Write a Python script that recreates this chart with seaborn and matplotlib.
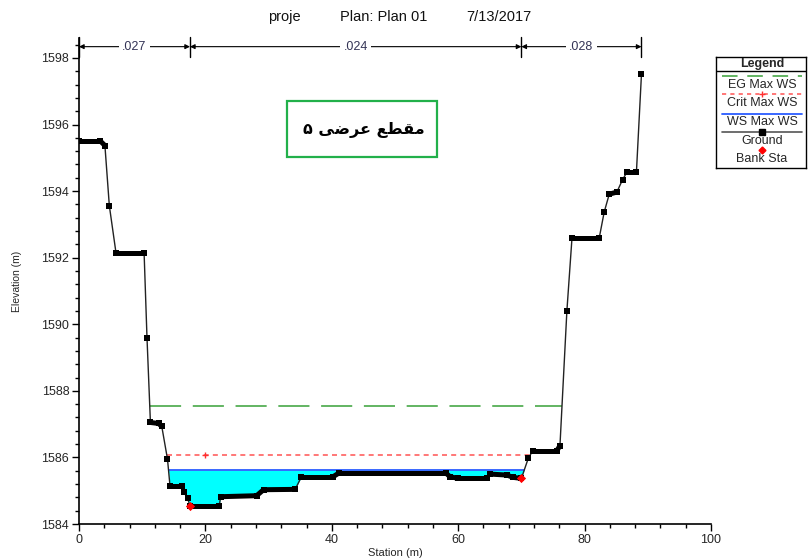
import numpy as np
import pandas as pd
import matplotlib
matplotlib.use("Agg")
import matplotlib.pyplot as plt
import seaborn as sns
from matplotlib.patches import Rectangle
from matplotlib.ticker import MultipleLocator

# ---------------- data ----------------
station = [0.0, 3.4, 4.1, 4.8, 5.85, 10.3, 10.76, 11.3, 12.6, 13.1, 14.0, 14.4,
           16.3, 16.6, 17.2, 17.56, 22.2, 22.4, 28.1, 29.2, 34.2, 35.2, 40.2,
           41.2, 58.0, 58.7, 60.0, 64.6, 65.0, 67.7, 68.7, 70.0, 71.1, 71.8,
           75.6, 76.1, 77.2, 78.0, 82.3, 83.1, 83.9, 85.1, 86.0, 86.7, 88.2, 89.0]
elevation = [1595.5, 1595.5, 1595.37, 1593.56, 1592.15, 1592.15, 1589.59, 1587.05,
             1587.02, 1586.93, 1585.95, 1585.14, 1585.14, 1584.95, 1584.77, 1584.54,
             1584.54, 1584.82, 1584.85, 1585.03, 1585.04, 1585.42, 1585.42, 1585.54,
             1585.54, 1585.42, 1585.37, 1585.37, 1585.5, 1585.47, 1585.4, 1585.37,
             1585.98, 1586.2, 1586.2, 1586.35, 1590.41, 1592.58, 1592.58, 1593.37,
             1593.91, 1593.97, 1594.34, 1594.57, 1594.57, 1597.52]
bank_sta = [17.56, 70.0]
eg_elev = 1587.55
crit_elev = 1586.06
ws_elev = 1585.62
crit_marker_sta = [20.0]
n_bounds = [0.0, 17.56, 70.0, 89.0]
n_values = [".027", ".024", ".028"]
x_ticks = [0, 20, 40, 60, 80, 100]
y_ticks = [1584, 1586, 1588, 1590, 1592, 1594, 1596, 1598]
title_parts = ["proje", "Plan: Plan 01", "7/13/2017"]
section_label = "مقطع عرضی ۵"
legend_labels = ["EG Max WS", "Crit Max WS", "WS Max WS", "Ground", "Bank Sta"]

# ---------------- helpers ----------------
def shape_arabic(text):
    forms = {
        'م': ('\uFEE1', '\uFEE2', '\uFEE3', '\uFEE4'),
        'ق': ('\uFED5', '\uFED6', '\uFED7', '\uFED8'),
        'ط': ('\uFEC1', '\uFEC2', '\uFEC3', '\uFEC4'),
        'ع': ('\uFEC9', '\uFECA', '\uFECB', '\uFECC'),
        'ر': ('\uFEAD', '\uFEAE', '\uFEAD', '\uFEAE'),
        'ض': ('\uFEBD', '\uFEBE', '\uFEBF', '\uFEC0'),
        'ی': ('\uFBFC', '\uFBFD', '\uFBFE', '\uFBFF'),
    }
    no_forward = {'ر'}
    out = []
    for i, c in enumerate(text):
        if c not in forms:
            out.append(c)
            continue
        prev = text[i - 1] if i > 0 else ''
        nxt = text[i + 1] if i + 1 < len(text) else ''
        jp = prev in forms and prev not in no_forward
        jn = nxt in forms and c not in no_forward
        iso, fin, ini, med = forms[c]
        out.append(med if (jp and jn) else fin if jp else ini if jn else iso)
    return ''.join(reversed(out))


def crossings(level):
    s = np.asarray(station)
    z = np.asarray(elevation)
    left = right = None
    for i in range(len(s) - 1):
        if z[i] >= level > z[i + 1]:
            left = s[i] + (s[i + 1] - s[i]) * (z[i] - level) / (z[i] - z[i + 1])
            break
    for i in range(len(s) - 1, 0, -1):
        if z[i] >= level > z[i - 1]:
            right = s[i - 1] + (s[i] - s[i - 1]) * (level - z[i - 1]) / (z[i] - z[i - 1])
            break
    return left, right

# ---------------- figure ----------------
W, H = 809, 560
sns.set_style("ticks")
plt.rcParams["font.family"] = ["Liberation Sans", "DejaVu Sans"]
fig = plt.figure(figsize=(W / 100, H / 100), dpi=100)
ax = fig.add_axes([79 / W, 36 / H, 632 / W, 486 / H])

ground = pd.DataFrame({"Station": station, "Elevation": elevation})
st = np.asarray(station)
el = np.asarray(elevation)

# water fill
ax.fill_between(st, el, ws_elev, where=el < ws_elev, interpolate=True,
                color="#00ffff", linewidth=0, zorder=2)

# water surface lines
wl, wr = crossings(ws_elev)
sns.lineplot(x=[wl, wr], y=[ws_elev, ws_elev], color="#2a5cff", lw=1.3,
             ax=ax, zorder=3, sort=False, estimator=None)
el_l, el_r = crossings(eg_elev)
sns.lineplot(x=[el_l, el_r], y=[eg_elev, eg_elev], color="#62b462", lw=1.4,
             ax=ax, zorder=3, sort=False, estimator=None, dashes=False)
ax.lines[-1].set_dashes([16, 6])
cl, cr = crossings(crit_elev)
sns.lineplot(x=[cl, cr], y=[crit_elev, crit_elev], color="#ff6060", lw=1.2,
             ax=ax, zorder=3, sort=False, estimator=None)
ax.lines[-1].set_dashes([3, 2.5])
sns.scatterplot(x=crit_marker_sta, y=[crit_elev] * len(crit_marker_sta), marker="+",
                color="#ff3030", s=25, linewidth=1, ax=ax, zorder=4)

# ground
sns.lineplot(data=ground, x="Station", y="Elevation", color="#222222", lw=1.0,
             ax=ax, zorder=5, sort=False, estimator=None)
for i in range(len(st) - 1):
    dx = st[i + 1] - st[i]
    if abs(el[i + 1] - el[i]) / dx < 0.3:
        ax.plot(st[i:i + 2], el[i:i + 2], color="black", lw=3.6,
                solid_capstyle="butt", zorder=5)
sns.scatterplot(data=ground, x="Station", y="Elevation", marker="s", color="black",
                s=20, linewidth=0, ax=ax, zorder=6)

# bank stations
bank_el = np.interp(bank_sta, st, el)
sns.scatterplot(x=bank_sta, y=bank_el, marker="D", color="red", s=22,
                linewidth=0, ax=ax, zorder=7)

# axes formatting
ax.set_xlim(0, 100)
ax.set_ylim(1584, 1598.6)
ax.set_xticks(x_ticks)
ax.set_yticks(y_ticks)
ax.xaxis.set_minor_locator(MultipleLocator(4))
ax.yaxis.set_minor_locator(MultipleLocator(0.4))
ax.tick_params(axis="both", which="major", length=5, width=1, labelsize=9,
               direction="out", pad=2, color="black")
ax.tick_params(axis="both", which="minor", length=3, width=1, direction="out",
               color="black")
ax.set_xlabel("Station (m)", fontsize=8, labelpad=2)
ax.set_ylabel("Elevation (m)", fontsize=7.5, labelpad=14)
for side in ("top", "right"):
    ax.spines[side].set_visible(False)
for side in ("left", "bottom"):
    ax.spines[side].set_color("black")
    ax.spines[side].set_linewidth(1.2)

# roughness (n value) brackets
ytick_top, ytick_bot, yarrow = 1598.62, 1598.03, 1598.34
for b in n_bounds:
    ax.plot([b, b], [ytick_bot, ytick_top], color="black", lw=1, clip_on=False, zorder=8)
for i, nv in enumerate(n_values):
    a, b = n_bounds[i], n_bounds[i + 1]
    ax.annotate("", xy=(b, yarrow), xytext=(a, yarrow), annotation_clip=False,
                arrowprops=dict(arrowstyle="<|-|>", color="black", lw=0.8,
                                mutation_scale=7, shrinkA=0, shrinkB=0))
    ax.text((a + b) / 2, yarrow, nv, ha="center", va="center", fontsize=9,
            color="#333355", zorder=9, clip_on=False,
            bbox=dict(facecolor="white", edgecolor="none", pad=2.5))

# title
title_x = [268, 340, 466]
for tx, tp in zip(title_x, title_parts):
    fig.text(tx / W, 1 - 17 / H, tp, ha="left", va="center", fontsize=10.5, color="#111111")

# section label box
fig.patches.append(Rectangle((287 / W, 1 - 157 / H), 150 / W, 56 / H,
                             transform=fig.transFigure, fill=False,
                             edgecolor="#22b04a", lw=1.6))
fig.text(364 / W, 1 - 130 / H, shape_arabic(section_label), ha="center", va="center",
         fontsize=11.5, fontweight="bold", family=["DejaVu Sans"], color="black")

# legend (drawn in its own small axes in pixel units)
lax = fig.add_axes([716 / W, 1 - 168 / H, 90 / W, 111 / H])
lax.set_xlim(0, 90)
lax.set_ylim(111, 0)
lax.set_xticks([])
lax.set_yticks([])
for sp in lax.spines.values():
    sp.set_color("black")
    sp.set_linewidth(1)
lax.text(46, 7, "Legend", ha="center", va="center", fontsize=9, fontweight="bold")
lax.plot([0, 90], [13.5, 13.5], color="black", lw=1)
lx = [6, 86]
l1, = lax.plot(lx, [18.5, 18.5], color="#62b462", lw=1.4)
l1.set_dashes([8, 5])
l2, = lax.plot(lx, [37, 37], color="#ff6060", lw=1.2)
l2.set_dashes([2.5, 2.5])
lax.plot([46], [37], marker="+", color="#ff3030", ms=5, mew=1)
lax.plot(lx, [56.5, 56.5], color="#2a5cff", lw=1.3)
lax.plot(lx, [74.5, 74.5], color="#555555", lw=1.2)
lax.plot([46], [74.5], marker="s", color="black", ms=4)
lax.plot([46], [93], marker="D", color="red", ms=3.5)
for yy, lab in zip([27.5, 46, 65, 84, 102], legend_labels):
    lax.text(46, yy, lab, ha="center", va="center", fontsize=9)

fig.savefig("out.png", dpi=100)
